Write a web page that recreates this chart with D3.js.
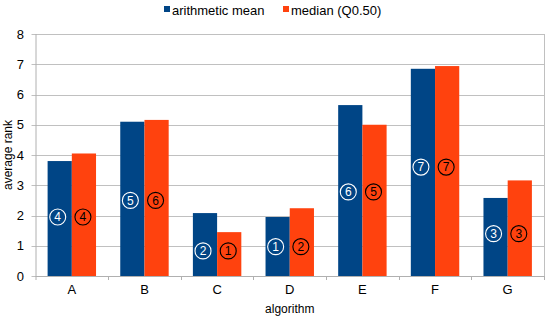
<!DOCTYPE html>
<html>
<head>
<meta charset="utf-8">
<script src="https://cdn.jsdelivr.net/npm/d3@7"></script>
<style>
  body { margin: 0; background: #fff; }
  text { font-family: "Liberation Sans", Arial, sans-serif; }
</style>
</head>
<body>
<div id="chart"></div>
<script>
// chart data
const algorithms = ["A", "B", "C", "D", "E", "F", "G"];
const meanValues = [3.8, 5.1, 2.08, 1.95, 5.65, 6.85, 2.58];
const medianValues = [4.05, 5.16, 1.45, 2.24, 5.0, 6.94, 3.16];
const meanRanks = [4, 5, 2, 1, 6, 7, 3];
const medianRanks = [4, 6, 1, 2, 5, 7, 3];
// vertical position of the rank markers, in axis units
const rankLevels = [1.95, 2.5, 0.83, 0.97, 2.78, 3.6, 1.4];
const yTicks = [0, 1, 2, 3, 4, 5, 6, 7, 8];
const seriesNames = ["arithmetic mean", "median (Q0.50)"];
const seriesColors = ["#004586", "#ff420e"];

const width = 550;
const height = 320;
const margin = { top: 34, right: 6, bottom: 44, left: 35.5 };

const svg = d3.select("#chart")
  .append("svg")
  .attr("width", width)
  .attr("height", height);

const x = d3.scaleBand()
  .domain(algorithms)
  .range([margin.left, width - margin.right])
  .paddingInner(0)
  .paddingOuter(0);

const y = d3.scaleLinear()
  .domain([0, 8])
  .range([height - margin.bottom, margin.top]);

const barW = x.bandwidth() / 3;
const xSub = d3.scaleBand()
  .domain([0, 1])
  .range([x.bandwidth() / 2 - barW, x.bandwidth() / 2 + barW]);

// gridlines
svg.append("g")
  .selectAll("line")
  .data(yTicks)
  .join("line")
  .attr("x1", margin.left - 4)
  .attr("x2", width - margin.right)
  .attr("y1", d => Math.round(y(d)) + 0.5)
  .attr("y2", d => Math.round(y(d)) + 0.5)
  .attr("stroke", "#c0c0c0")
  .attr("stroke-width", 1);

// right border
svg.append("line")
  .attr("x1", width - margin.right + 0.5)
  .attr("x2", width - margin.right + 0.5)
  .attr("y1", y(8))
  .attr("y2", y(0))
  .attr("stroke", "#c0c0c0");

// y labels
svg.append("g")
  .selectAll("text")
  .data(yTicks)
  .join("text")
  .attr("x", 24)
  .attr("y", d => y(d))
  .attr("dy", "0.36em")
  .attr("text-anchor", "end")
  .attr("font-size", 13)
  .attr("fill", "#000")
  .text(d => d);

// bars
const groups = svg.append("g")
  .selectAll("g")
  .data(algorithms)
  .join("g")
  .attr("transform", d => `translate(${x(d)},0)`);

const seriesVals = [meanValues, medianValues];
groups.each(function (d, i) {
  const g = d3.select(this);
  [0, 1].forEach(s => {
    const v = seriesVals[s][i];
    g.append("rect")
      .attr("x", xSub(s))
      .attr("width", xSub.bandwidth())
      .attr("y", y(v))
      .attr("height", y(0) - y(v))
      .attr("fill", seriesColors[s]);
  });
  // rank markers
  const ranks = [meanRanks[i], medianRanks[i]];
  const strokes = ["#fff", "#000"];
  [0, 1].forEach(s => {
    const cx = xSub(s) + xSub.bandwidth() / 2 + (s === 0 ? -2 : -1);
    const cy = y(rankLevels[i]);
    g.append("circle")
      .attr("cx", cx)
      .attr("cy", cy)
      .attr("r", 8)
      .attr("fill", "none")
      .attr("stroke", strokes[s])
      .attr("stroke-width", 1.1);
    g.append("text")
      .attr("x", cx)
      .attr("y", cy)
      .attr("dy", "0.36em")
      .attr("text-anchor", "middle")
      .attr("font-size", 12)
      .attr("fill", strokes[s])
      .text(ranks[s]);
  });
});

// x axis line and ticks
svg.append("line")
  .attr("x1", margin.left)
  .attr("x2", width - margin.right)
  .attr("y1", Math.round(y(0)) + 0.5)
  .attr("y2", Math.round(y(0)) + 0.5)
  .attr("stroke", "#b0b0b0");

svg.append("line")
  .attr("x1", margin.left + 0.5)
  .attr("x2", margin.left + 0.5)
  .attr("y1", y(8))
  .attr("y2", y(0) + 4)
  .attr("stroke", "#b0b0b0");

svg.append("g")
  .selectAll("line")
  .data(algorithms.slice(1).concat(["end"]))
  .join("line")
  .attr("x1", (d, i) => Math.round(margin.left + x.bandwidth() * (i + 1)) + 0.5)
  .attr("x2", (d, i) => Math.round(margin.left + x.bandwidth() * (i + 1)) + 0.5)
  .attr("y1", y(0))
  .attr("y2", y(0) + 4)
  .attr("stroke", "#b0b0b0");

svg.append("g")
  .selectAll("text")
  .data(algorithms)
  .join("text")
  .attr("x", d => x(d) + x.bandwidth() / 2)
  .attr("y", 294)
  .attr("text-anchor", "middle")
  .attr("font-size", 13)
  .text(d => d);

// axis titles
svg.append("text")
  .attr("x", (margin.left + width - margin.right) / 2)
  .attr("y", 313)
  .attr("text-anchor", "middle")
  .attr("font-size", 12)
  .text("algorithm");

svg.append("text")
  .attr("transform", `translate(12,${(y(0) + y(8)) / 2}) rotate(-90)`)
  .attr("text-anchor", "middle")
  .attr("font-size", 12)
  .text("average rank");

// legend
const legendX = [164, 283];
const legend = svg.append("g")
  .selectAll("g")
  .data(seriesNames)
  .join("g")
  .attr("transform", (d, i) => `translate(${legendX[i]},0)`);

legend.append("rect")
  .attr("x", 0)
  .attr("y", 6)
  .attr("width", 6)
  .attr("height", 6)
  .attr("fill", (d, i) => seriesColors[i]);

legend.append("text")
  .attr("x", 8)
  .attr("y", 10)
  .attr("dy", "0.36em")
  .attr("font-size", 13)
  .text(d => d);
</script>
</body>
</html>
